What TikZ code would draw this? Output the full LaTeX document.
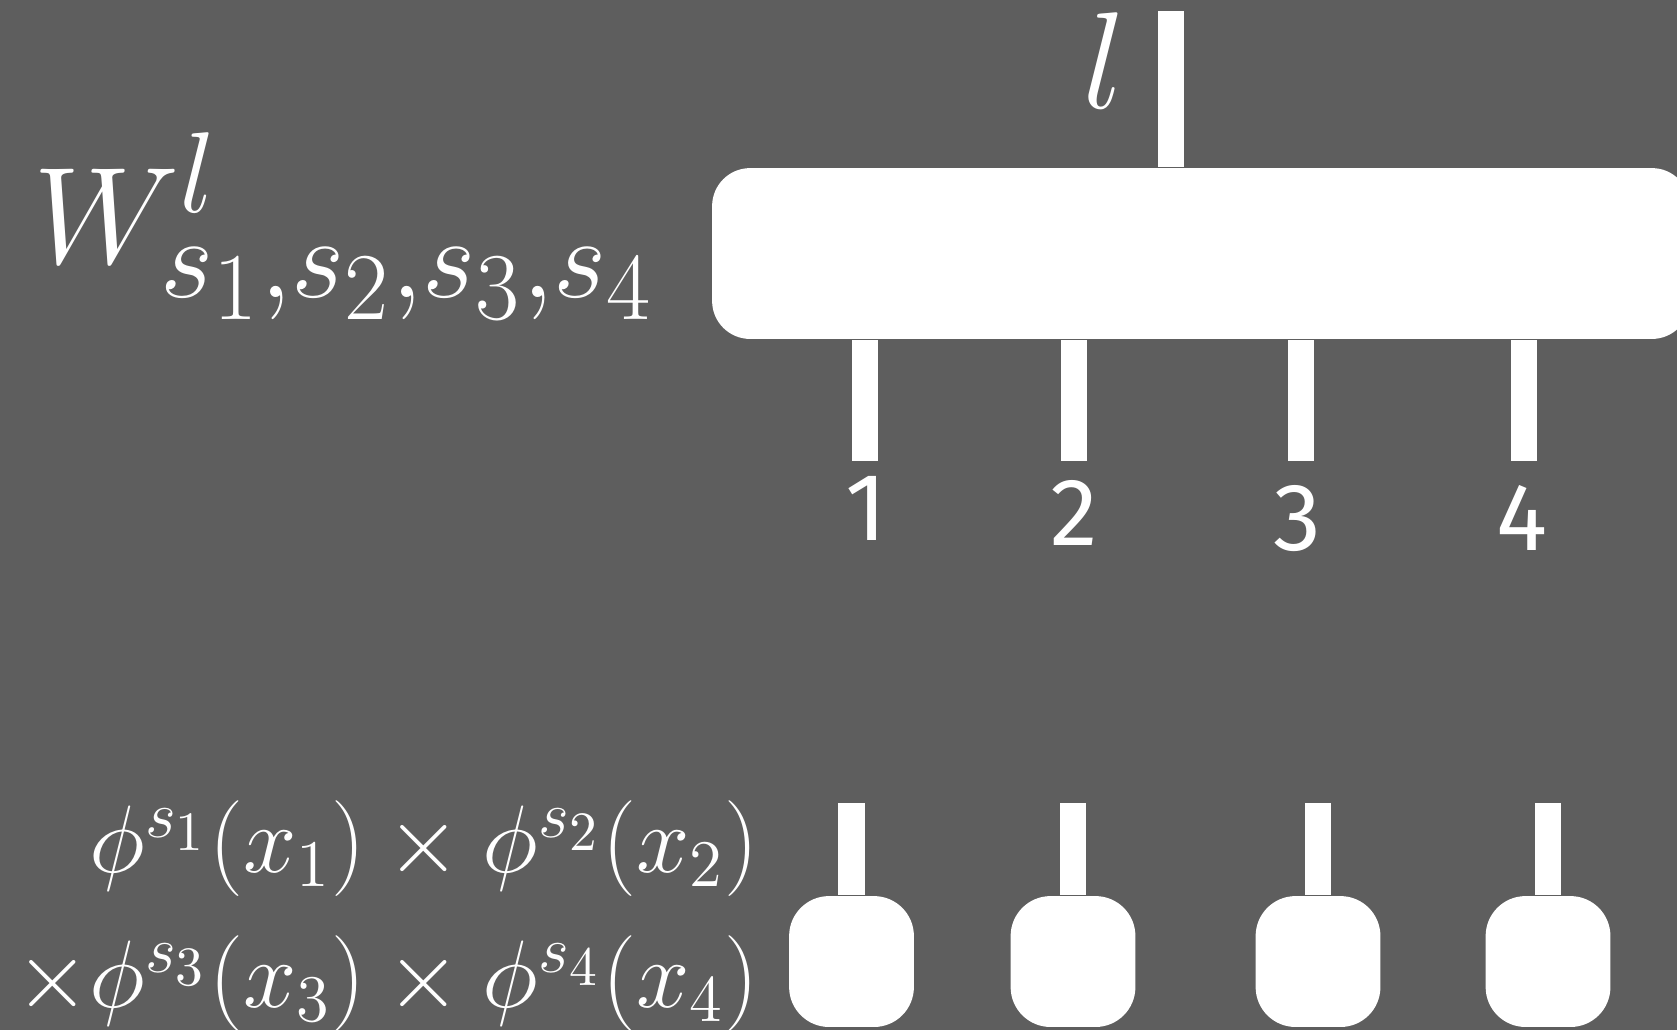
\documentclass[tikz,border=0pt]{standalone}
\usepackage{fontspec}
\newfontfamily\legfont{Fira Sans}
\usetikzlibrary{positioning}
\definecolor{slidegray}{HTML}{5E5E5E}

\begin{document}
\begin{tikzpicture}[x=18.03pt,y=18.03pt,
  tensor/.style={fill=white,inner sep=0pt,rounded corners=6.85pt},
  site/.style={tensor,minimum width=22.5pt,minimum height=23.6pt,rounded corners=7.2pt},
  leg/.style={draw=white,line width=4.7pt},
  num/.style={text=white,font=\legfont\LARGE,inner sep=0pt,anchor=base},
  lbl/.style={text=white,inner sep=0pt}]
\useasboundingbox (0,0) rectangle (16.77,10.30);
\fill[slidegray] (0,0) rectangle (16.77,10.30);

\node[tensor,minimum width=176.3pt,minimum height=30.8pt](W) at (12.01,7.765){};
\node[lbl,font=\Huge,anchor=base west](Wname) at (0.32,7.67){$W^{l}_{s_1,s_2,s_3,s_4}$};
\node[lbl,font=\Huge,anchor=base](l) at (11.04,9.22){$l$};
\coordinate(endl) at (11.71,10.19);

\coordinate(end1) at (8.65,5.69);
\coordinate(end2) at (10.74,5.69);
\coordinate(end3) at (13.01,5.69);
\coordinate(end4) at (15.24,5.69);
\node[num](n1) at (8.66,4.90){1};
\node[num](n2) at (10.745,4.85){2};
\node[num](n3) at (12.97,4.80){3};
\node[num](n4) at (15.22,4.80){4};

\node[site](x1) at (8.515,0.685){};
\node[site](x2) at (10.73,0.685){};
\node[site](x3) at (13.18,0.685){};
\node[site](x4) at (15.48,0.685){};
\coordinate(top1) at (8.515,2.27);
\coordinate(top2) at (10.73,2.27);
\coordinate(top3) at (13.18,2.27);
\coordinate(top4) at (15.48,2.27);

\node[lbl,font=\LARGE,anchor=base east](prodA) at (7.60,1.58){$\phi^{s_1}(x_1)\times\phi^{s_2}(x_2)$};
\node[lbl,font=\LARGE,anchor=base east](prodB) at (7.60,0.23){$\times\phi^{s_3}(x_3)\times\phi^{s_4}(x_4)$};

\path
(W.north -| endl) edge[leg] (endl)
(W.south -| end1) edge[leg] (end1)
(W.south -| end2) edge[leg] (end2)
(W.south -| end3) edge[leg] (end3)
(W.south -| end4) edge[leg] (end4)
(x1.north) edge[leg] (top1)
(x2.north) edge[leg] (top2)
(x3.north) edge[leg] (top3)
(x4.north) edge[leg] (top4);
\end{tikzpicture}
\end{document}
